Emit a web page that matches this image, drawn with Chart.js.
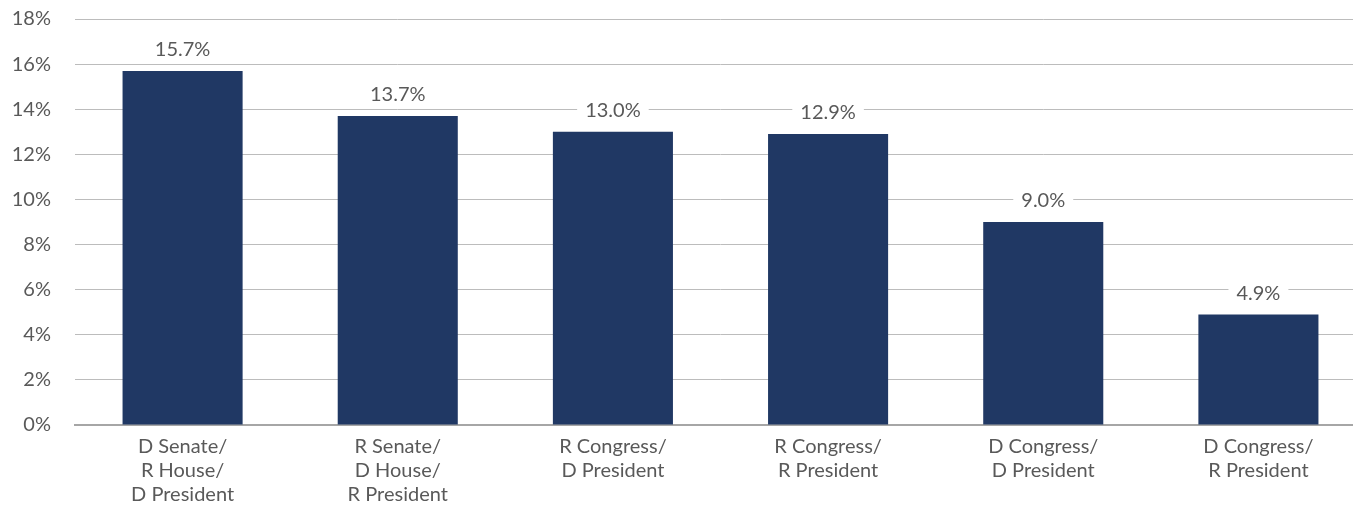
<!DOCTYPE html>
<html>
<head>
<meta charset="utf-8">
<script src="https://cdn.jsdelivr.net/npm/chart.js@4"></script>
<style>
  html, body { margin: 0; padding: 0; background: #fff; overflow: hidden; }
  #wrap { width: 1366px; height: 520px; }
</style>
</head>
<body>
<div id="wrap"><canvas id="myChart"></canvas></div>
<script>
const categories = [
  ['D Senate/', 'R House/', 'D President'],
  ['R Senate/', 'D House/', 'R President'],
  ['R Congress/', 'D President'],
  ['R Congress/', 'R President'],
  ['D Congress/', 'D President'],
  ['D Congress/', 'R President']
];
const values = [15.7, 13.7, 13.0, 12.9, 9.0, 4.9];
const yTicks = [0, 2, 4, 6, 8, 10, 12, 14, 16, 18];

const FONT = 'Lato';
const TEXT = '#595959';

// value labels sitting above the bars on a white box
const barLabels = {
  id: 'barLabels',
  afterDatasetsDraw(chart) {
    const c = chart.ctx;
    const meta = chart.getDatasetMeta(0);
    c.save();
    c.font = '20px ' + FONT;
    c.textAlign = 'center';
    c.textBaseline = 'middle';
    meta.data.forEach((bar, i) => {
      const txt = values[i].toFixed(1) + '%';
      const w = c.measureText(txt).width + 16;
      const y = bar.y - 21;
      c.fillStyle = '#fff';
      c.fillRect(bar.x - w / 2, y - 12, w, 24);
      c.fillStyle = TEXT;
      c.fillText(txt, bar.x, y);
    });
    c.restore();
  }
};

const ctx = document.getElementById('myChart').getContext('2d');
const myChart = new Chart(ctx, {
  type: 'bar',
  data: {
    labels: categories,
    datasets: [{
      data: values,
      backgroundColor: '#203864',
      categoryPercentage: 1,
      barPercentage: 0.558
    }]
  },
  options: {
    responsive: true,
    maintainAspectRatio: false,
    animation: false,
    layout: { padding: { top: 19, right: 0, left: 0, bottom: 0 } },
    scales: {
      x: {
        grid: { display: false, drawTicks: false },
        border: { display: true, color: '#a6a6a6', width: 2 },
        ticks: {
          color: TEXT,
          font: { family: FONT, size: 20, lineHeight: 1.2 },
          padding: 10,
          maxRotation: 0,
          autoSkip: false
        },
        afterFit(scale) {
          scale.height = 95;
          scale.paddingLeft = 0;
          scale.paddingRight = 0;
        }
      },
      y: {
        min: 0,
        max: 18,
        afterBuildTicks(scale) { scale.ticks = yTicks.map(v => ({ value: v })); },
        grid: { color: '#bcbcbc', lineWidth: 1, drawTicks: false },
        border: { display: false },
        ticks: {
          color: TEXT,
          font: { family: FONT, size: 20 },
          padding: 24,
          callback: v => v + '%'
        },
        afterFit(scale) {
          scale.width = 75;
          scale.paddingTop = 0;
          scale.paddingBottom = 0;
        }
      }
    },
    plugins: {
      legend: { display: false },
      tooltip: { enabled: false }
    }
  },
  plugins: [barLabels]
});
</script>
</body>
</html>
